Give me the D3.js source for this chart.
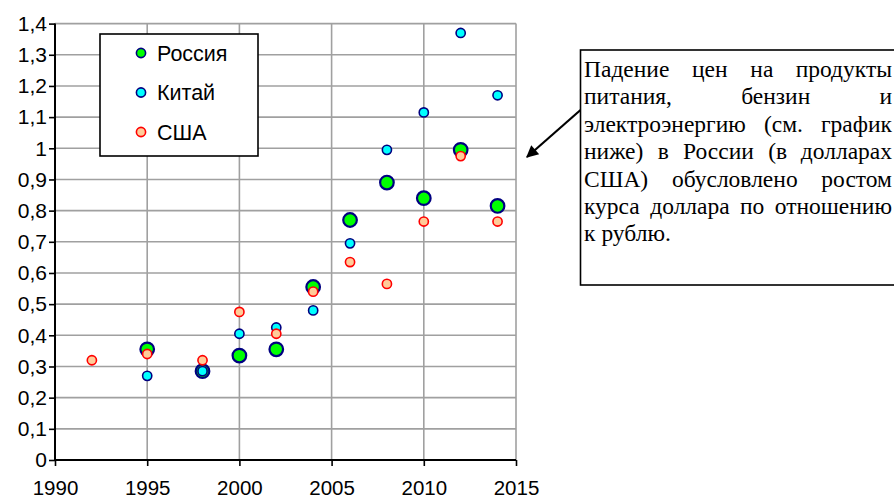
<!DOCTYPE html>
<html>
<head>
<meta charset="utf-8">
<script src="https://cdn.jsdelivr.net/npm/d3@7"></script>
<style>
  body { margin: 0; background: #fff; }
  svg { display: block; }
</style>
</head>
<body>
<div id="container"></div>
<script>
const width = 894;
const height = 499;

// Series
const russiaYears = [1995, 1998, 2000, 2002, 2004, 2006, 2008, 2010, 2012, 2014];
const russiaValues = [0.355, 0.285, 0.335, 0.355, 0.555, 0.77, 0.89, 0.84, 0.995, 0.815];
const chinaYears = [1995, 1998, 2000, 2002, 2004, 2006, 2008, 2010, 2012, 2014];
const chinaValues = [0.27, 0.285, 0.405, 0.425, 0.48, 0.695, 0.995, 1.115, 1.37, 1.17];
const usaYears = [1992, 1995, 1998, 2000, 2002, 2004, 2006, 2008, 2010, 2012, 2014];
const usaValues = [0.32, 0.34, 0.32, 0.475, 0.405, 0.54, 0.635, 0.565, 0.765, 0.975, 0.765];

const xTicks = [1990, 1995, 2000, 2005, 2010, 2015];
const yTicks = d3.range(0, 15).map(i => i / 10);
const legendNames = ['Россия', 'Китай', 'США'];

const noteLines = [
  'Падение цен на продукты',
  'питания, бензин и',
  'электроэнергию (см. график',
  'ниже) в России (в долларах',
  'США) обусловлено ростом',
  'курса доллара по отношению',
  'к рублю.'
];

const series = [
  {name: legendNames[0], years: russiaYears, values: russiaValues, r: 6.8, fill: '#00ff00', stroke: '#000080', sw: 2.2},
  {name: legendNames[1], years: chinaYears, values: chinaValues, r: 4.6, fill: '#00ffff', stroke: '#000080', sw: 1.6},
  {name: legendNames[2], years: usaYears, values: usaValues, r: 4.6, fill: '#ffcc99', stroke: '#ff0000', sw: 1.6}
];

const x = d3.scaleLinear().domain([1990, 2015]).range([55, 516]);
const y = d3.scaleLinear().domain([0, 1.4]).range([460, 23.6]);

const fmt = d => String(+d.toFixed(1)).replace('.', ',');

const svg = d3.select('#container').append('svg')
  .attr('width', width)
  .attr('height', height)
  .style('background', '#fff');

// grid
const grid = svg.append('g')
  .attr('stroke', '#a0a0a0')
  .attr('stroke-width', 1.6);

grid.selectAll('.hgrid')
  .data(yTicks.filter(d => d > 0))
  .join('line')
  .attr('x1', x(1990))
  .attr('x2', x(2015))
  .attr('y1', d => y(d))
  .attr('y2', d => y(d));

grid.selectAll('.vgrid')
  .data(xTicks.filter(d => d > 1990))
  .join('line')
  .attr('x1', d => x(d))
  .attr('x2', d => x(d))
  .attr('y1', y(0))
  .attr('y2', y(1.4));

// axes
const yAxis = svg.append('g')
  .attr('transform', `translate(${x(1990)},0)`)
  .call(d3.axisLeft(y).tickValues(yTicks).tickFormat(fmt).tickSize(6).tickPadding(2));

const xAxis = svg.append('g')
  .attr('transform', `translate(0,${y(0)})`)
  .call(d3.axisBottom(x).tickValues(xTicks).tickFormat(d3.format('d')).tickSize(6).tickPadding(14));

[yAxis, xAxis].forEach(a => {
  a.select('.domain').attr('stroke', '#000').attr('stroke-width', 2);
  a.selectAll('.tick line').attr('stroke', '#000').attr('stroke-width', 1.6);
  a.selectAll('.tick text')
    .attr('fill', '#000')
    .style('font-family', '"Liberation Sans", Arial, sans-serif')
    .style('font-size', '21px');
});
xAxis.selectAll('.tick text').style('font-size', '20.5px');
yAxis.select('.domain').attr('d', `M0,${y(1.4)}V${y(0)}`);
xAxis.select('.domain').attr('d', `M${x(1990)},0H${x(2015)}`);

// points: Russia first, then China, USA on top
series.forEach(s => {
  svg.append('g')
    .selectAll('circle')
    .data(s.years.map((yr, i) => ({yr, v: s.values[i]})))
    .join('circle')
    .attr('cx', d => x(d.yr))
    .attr('cy', d => y(d.v))
    .attr('r', s.r)
    .attr('fill', s.fill)
    .attr('stroke', s.stroke)
    .attr('stroke-width', s.sw);
});

// legend
const legend = svg.append('g');
legend.append('rect')
  .attr('x', 100)
  .attr('y', 34)
  .attr('width', 158)
  .attr('height', 122)
  .attr('fill', '#fff')
  .attr('stroke', '#000')
  .attr('stroke-width', 1.6);

const legendRow = legend.selectAll('.row')
  .data(series)
  .join('g')
  .attr('transform', (d, i) => `translate(141,${53 + i * 39.5})`);

legendRow.append('circle')
  .attr('r', 4.6)
  .attr('fill', d => d.fill)
  .attr('stroke', d => d.stroke)
  .attr('stroke-width', 1.6);

legendRow.append('text')
  .attr('x', 16)
  .attr('dy', '0.35em')
  .style('font-family', '"Liberation Sans", Arial, sans-serif')
  .style('font-size', '21.5px')
  .text(d => d.name);

// note box with arrow
svg.append('defs').append('marker')
  .attr('id', 'head')
  .attr('viewBox', '0 0 10 10')
  .attr('refX', 9)
  .attr('refY', 5)
  .attr('markerWidth', 7)
  .attr('markerHeight', 5.5)
  .attr('markerUnits', 'strokeWidth')
  .attr('orient', 'auto')
  .append('path')
  .attr('d', 'M0,0L10,5L0,10Z')
  .attr('fill', '#000');

svg.append('line')
  .attr('x1', 580.5)
  .attr('y1', 110)
  .attr('x2', 527)
  .attr('y2', 157)
  .attr('stroke', '#000')
  .attr('stroke-width', 2.2)
  .attr('marker-end', 'url(#head)');

svg.append('rect')
  .attr('x', 580.5)
  .attr('y', 50)
  .attr('width', 330)
  .attr('height', 235)
  .attr('fill', '#fff')
  .attr('stroke', '#000')
  .attr('stroke-width', 1.6);

const note = svg.append('g')
  .style('font-family', '"Liberation Serif", "Times New Roman", serif')
  .style('font-size', '23.5px');

// justified lines, last one ragged
const left = 584;
const right = 892;
noteLines.forEach((line, i) => {
  const words = line.split(' ');
  const t = note.append('text').attr('y', 77 + i * 27.4);
  const spans = words.map(w => t.append('tspan').text(w));
  const widths = spans.map(s => s.node().getComputedTextLength());
  const last = i === noteLines.length - 1;
  const total = d3.sum(widths);
  const gap = (last || words.length < 2) ? 6 : (right - left - total) / (words.length - 1);
  let pos = left;
  spans.forEach((s, j) => {
    s.attr('x', pos);
    pos += widths[j] + gap;
  });
});
</script>
</body>
</html>
